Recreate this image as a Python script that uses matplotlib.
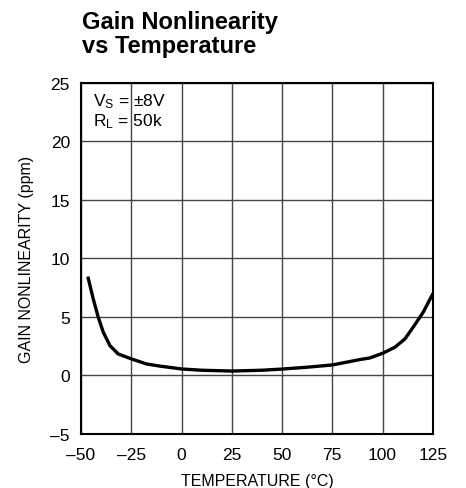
import matplotlib
matplotlib.use("Agg")
import matplotlib.pyplot as plt

FONT = "Liberation Sans"
plt.rcParams['font.family'] = [FONT, 'DejaVu Sans']
plt.rcParams['mathtext.fontset'] = 'custom'
plt.rcParams['mathtext.rm'] = FONT
plt.rcParams['mathtext.it'] = FONT

# Data
temperature = [-46.4, -43.9, -41.4, -38.9, -35.6, -31.5, -24.8, -17.3, -10.7, 0, 10, 25,
               40, 50, 62, 75, 88.7, 93.7, 100.3, 106.1, 111.1, 115.2, 120.2, 124.7]
nonlinearity = [8.31, 6.54, 4.97, 3.69, 2.55, 1.84, 1.41, 0.98, 0.8, 0.56, 0.45, 0.38,
                0.45, 0.55, 0.7, 0.9, 1.36, 1.5, 1.92, 2.41, 3.12, 4.12, 5.4, 6.88]
x_ticks = [-50, -25, 0, 25, 50, 75, 100, 125]
y_ticks = [-5, 0, 5, 10, 15, 20, 25]

fig = plt.figure(figsize=(4.66, 4.89), dpi=100)
ax = fig.add_axes([0.1738, 0.1104, 0.755, 0.718])

ax.plot(temperature, nonlinearity, color='black', lw=2.4, solid_joinstyle='round')
ax.set_xlim(-50, 125)
ax.set_ylim(-5, 25)
ax.set_xticks(x_ticks)
ax.set_yticks(y_ticks)
ax.set_xticklabels([f"{v}".replace('-', '\u2013') for v in x_ticks])
ax.set_yticklabels([f"{v}".replace('-', '\u2013') for v in y_ticks])
ax.tick_params(length=0, labelsize=12.5)
ax.tick_params(axis='x', pad=9)
ax.tick_params(axis='y', pad=8)
ax.grid(True, color='#444444', lw=1.0)
for s in ax.spines.values():
    s.set_linewidth(1.5)
    s.set_color('black')

ax.set_xlabel("TEMPERATURE (°C)", fontsize=11.5, labelpad=8)
ax.set_ylabel("GAIN NONLINEARITY (ppm)", fontsize=11.5, labelpad=12)

fig.text(82/466, 1 - 11/489, "Gain Nonlinearity\nvs Temperature", fontsize=17,
         fontweight='bold', va='top', ha='left', linespacing=1.05)

ax.text(0.035, 0.935, r"$\mathrm{V_S}$ = ±8V", transform=ax.transAxes, fontsize=12.5,
        va='baseline', ha='left')
ax.text(0.035, 0.878, r"$\mathrm{R_L}$ = 50k", transform=ax.transAxes, fontsize=12.5,
        va='baseline', ha='left')

fig.savefig("out.png", dpi=100)
